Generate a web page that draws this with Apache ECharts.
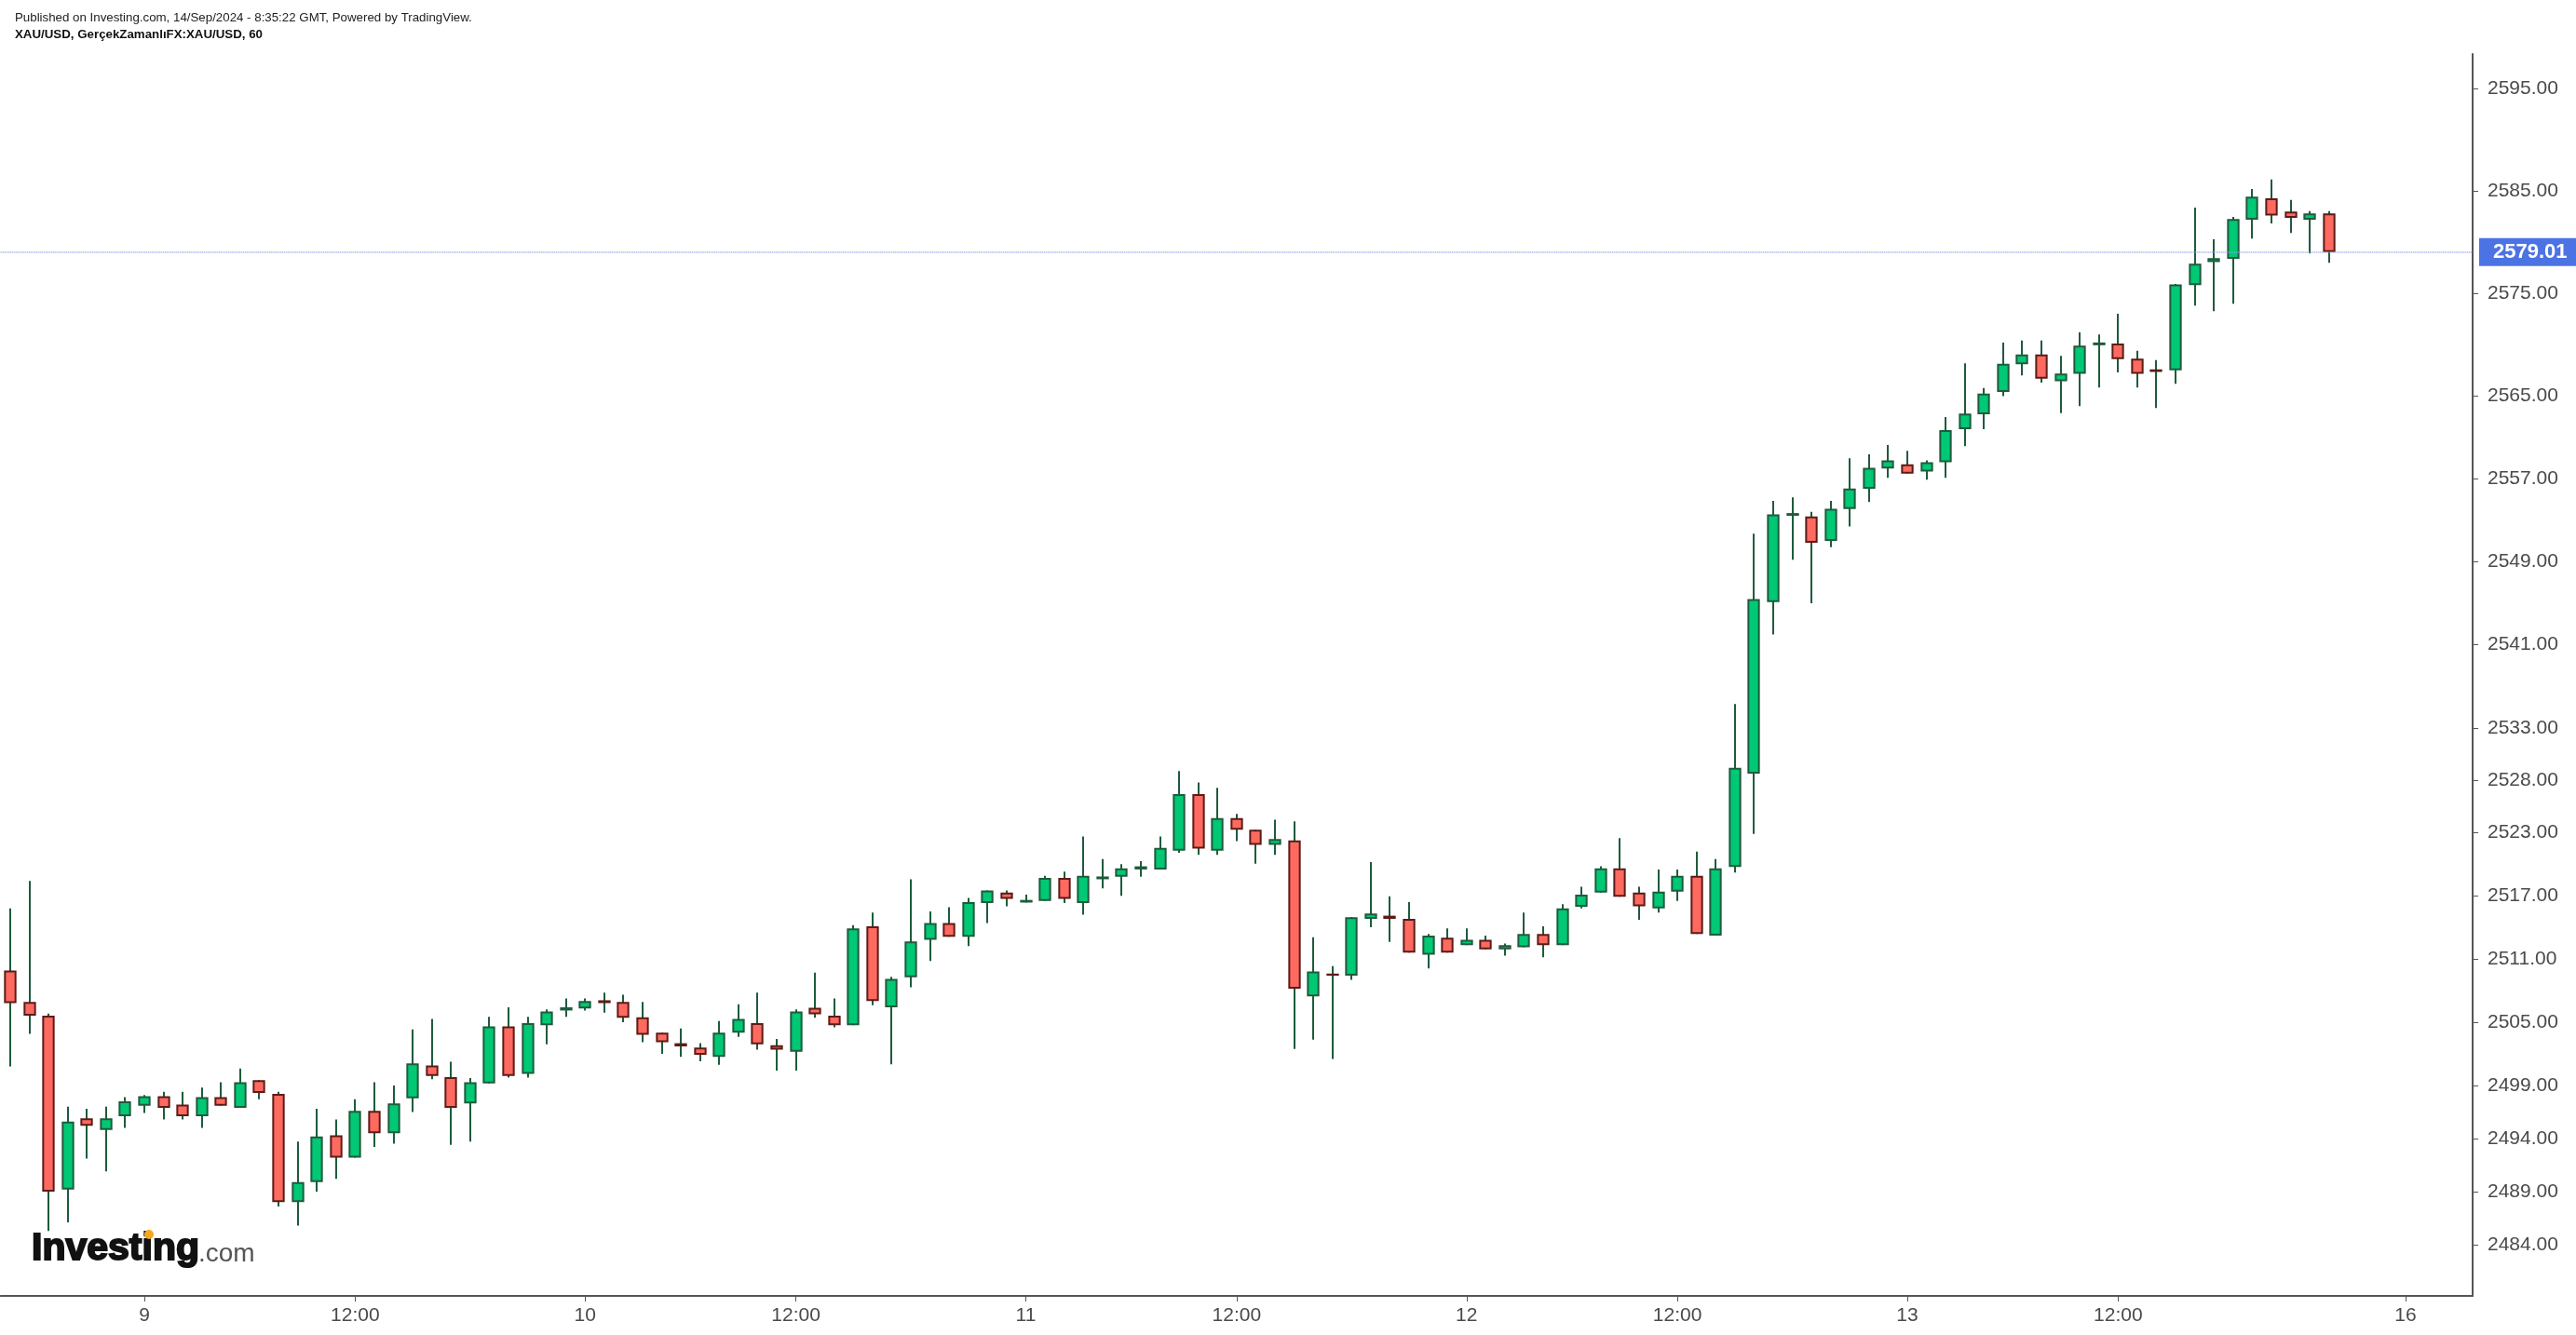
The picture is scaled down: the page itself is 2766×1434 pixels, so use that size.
<!DOCTYPE html>
<html><head><meta charset="utf-8">
<script src="https://cdn.jsdelivr.net/npm/echarts@6/dist/echarts.min.js"></script>
<style>html,body{margin:0;padding:0;background:#fff}#c{width:2766px;height:1434px}</style>
</head><body><div id="c"></div>
<script>
// XAU/USD hourly candles
const opens = [2509.9,2506.9,2505.6,2489.2,2495.9,2494.8,2496.1,2497.1,2498.0,2497.2,
2496.1,2497.9,2496.9,2499.5,2498.2,2488.0,2489.9,2494.3,2492.2,2496.6,
2494.5,2497.8,2500.9,2499.8,2497.3,2499.2,2504.6,2500.1,2504.7,2506.1,
2506.3,2507.07,2506.9,2505.45,2504.0,2503.0,2502.6,2501.7,2504.0,2504.9,
2502.8,2502.2,2506.35,2505.6,2504.7,2514.1,2506.4,2509.26,2512.8,2514.4,
2513.1,2516.3,2517.3,2516.35,2516.5,2518.7,2516.3,2518.65,2518.8,2519.5,
2519.5,2521.3,2526.7,2521.3,2524.4,2523.3,2521.85,2522.27,2507.45,2509.6,
2509.4,2514.8,2515.1,2514.8,2511.4,2513.0,2512.3,2512.8,2511.9,2512.1,
2513.35,2512.3,2515.95,2517.3,2519.6,2517.3,2515.8,2517.4,2518.9,2513.2,
2519.75,2528.65,2545.1,2553.5,2553.36,2551.0,2554.07,2556.03,2558.0,2558.4,
2557.7,2558.6,2561.8,2563.25,2565.4,2568.1,2569.05,2566.45,2567.17,2570.0,
2570.1,2568.64,2567.6,2567.5,2575.8,2578.03,2578.36,2582.18,2584.27,2582.97,
2582.18,2582.79];
const highs = [2515.8,2518.4,2505.8,2497.0,2496.8,2497.0,2497.9,2498.1,2498.4,2498.4,
2498.8,2499.3,2500.6,2499.5,2498.4,2493.7,2496.8,2495.8,2497.7,2499.3,
2499.0,2504.3,2505.3,2501.25,2499.7,2505.5,2506.4,2505.5,2506.2,2507.25,
2507.25,2507.8,2507.6,2506.9,2504.0,2504.4,2503.0,2505.1,2506.7,2507.8,
2503.4,2506.2,2509.7,2507.25,2514.2,2515.4,2509.3,2518.56,2515.5,2515.9,
2516.8,2517.5,2517.5,2517.1,2518.9,2519.3,2522.65,2520.5,2520.0,2520.3,
2522.65,2528.9,2527.8,2527.3,2524.8,2523.3,2524.25,2524.1,2513.05,2510.3,
2514.95,2520.2,2516.95,2516.4,2513.35,2513.9,2513.9,2513.2,2512.45,2515.4,
2514.1,2516.2,2517.85,2519.8,2522.5,2517.85,2519.5,2519.5,2521.2,2520.5,
2535.3,2551.7,2554.86,2555.2,2553.8,2554.86,2558.98,2559.37,2560.26,2559.7,
2558.77,2562.96,2568.18,2565.8,2570.2,2570.4,2570.4,2568.9,2571.2,2571.0,
2573.0,2569.4,2568.5,2575.9,2583.36,2580.27,2582.45,2585.18,2586.1,2584.1,
2583.0,2583.0];
const lows = [2500.8,2503.9,2485.3,2486.1,2492.1,2490.9,2495.0,2496.4,2495.8,2495.8,
2495.0,2497.1,2496.9,2497.7,2487.6,2485.8,2489.0,2490.2,2492.2,2493.2,
2493.5,2496.5,2499.6,2493.4,2493.7,2499.2,2499.75,2499.75,2502.9,2505.5,
2506.1,2505.9,2505.0,2503.1,2502.0,2501.7,2501.3,2500.96,2503.6,2502.4,
2500.4,2500.4,2505.4,2504.5,2504.7,2506.6,2501.0,2508.3,2510.8,2513.1,
2512.2,2514.4,2516.0,2516.35,2516.5,2516.3,2515.2,2517.7,2517.0,2518.8,
2519.5,2521.1,2520.9,2520.9,2522.2,2520.04,2520.9,2502.45,2503.33,2501.5,
2509.0,2514.0,2512.6,2511.6,2510.1,2511.6,2512.3,2511.9,2511.3,2512.1,
2511.15,2512.3,2515.8,2517.3,2516.9,2514.7,2515.4,2516.5,2513.35,2513.2,
2519.2,2522.9,2542.0,2549.17,2545.0,2550.4,2552.4,2554.75,2557.1,2557.5,
2556.9,2557.1,2560.15,2561.8,2565.0,2567.0,2566.3,2563.35,2564.04,2565.84,
2567.3,2565.84,2563.86,2566.2,2573.8,2573.25,2573.98,2580.33,2581.8,2580.88,
2578.88,2577.97];
const closes = [2506.8,2505.6,2489.0,2495.6,2495.2,2495.9,2497.5,2498.0,2496.9,2496.1,
2497.9,2497.1,2499.3,2498.3,2488.0,2489.9,2494.2,2492.2,2496.6,2494.5,
2497.3,2501.1,2499.9,2496.9,2499.3,2504.6,2499.9,2504.9,2506.0,2506.4,
2507.0,2506.8,2505.4,2503.8,2503.1,2502.7,2501.9,2504.0,2505.3,2502.9,
2502.4,2506.0,2505.75,2504.7,2513.9,2507.0,2509.1,2512.66,2514.4,2513.1,
2516.4,2517.5,2516.7,2516.6,2518.7,2516.7,2518.9,2518.75,2519.6,2519.8,
2521.55,2526.7,2521.5,2524.4,2523.3,2521.85,2522.4,2508.17,2509.8,2509.4,
2514.95,2515.3,2514.8,2511.6,2513.2,2511.6,2512.8,2511.9,2512.3,2513.35,
2512.3,2515.8,2517.1,2519.6,2516.9,2516.0,2517.4,2518.9,2513.35,2519.6,
2529.2,2545.4,2553.57,2553.6,2550.83,2554.1,2556.06,2558.05,2558.77,2557.5,
2558.6,2561.7,2563.3,2565.25,2568.15,2569.05,2566.7,2567.2,2569.9,2570.15,
2568.6,2567.17,2567.35,2575.87,2577.88,2578.42,2582.24,2584.42,2582.58,2582.36,
2582.79,2579.01];

const slotCount = 129;                     // hourly slots incl. empty future ones
const xLabelIdx  = [7, 18, 30, 41, 53, 64, 76, 87, 99, 110, 125];
const xLabelText = ['9','12:00','10','12:00','11','12:00','12','12:00','13','12:00','16'];
const yTickValues = [2484,2489,2494,2499,2505,2511,2517,2523,2528,2533,2541,2549,2557,2565,2575,2585,2595];
const lastPrice = 2579.01;
const yMin = 2479.2, yMax = 2598.4;

const categories = Array.from({length: slotCount}, (_, i) => String(i));
const candleData = opens.map((o, i) => [i, o, closes[i], lows[i], highs[i]]);

const UP_FILL = '#00C875', UP_LINE = '#1E5B3C';
const DOWN_FILL = '#FF6A60', DOWN_LINE = '#5C1B17';
const WICK = '#1E5B3C';
const FONT = 'Arial, "Liberation Sans", sans-serif';

function renderItem(params, api) {
  const idx = api.value(0);
  const o = api.value(1), c = api.value(2), l = api.value(3), h = api.value(4);
  const pO = api.coord([idx, o]), pC = api.coord([idx, c]);
  const pL = api.coord([idx, l]), pH = api.coord([idx, h]);
  const band = api.size([1, 0])[0];
  const w = band * 0.55;
  const up = c >= o;
  const x = Math.round(pO[0]);
  let top = Math.min(pO[1], pC[1]) + 1, bot = Math.max(pO[1], pC[1]) - 1;
  if (bot < top) { const m = (top + bot) / 2; top = m - 0.5; bot = m + 0.5; }
  return {
    type: 'group',
    children: [
      { type: 'line', shape: { x1: x, y1: pH[1], x2: x, y2: pL[1] },
        style: { stroke: WICK, lineWidth: 2 } },
      { type: 'rect', shape: { x: x - w / 2, y: top, width: w, height: bot - top },
        style: { fill: up ? UP_FILL : DOWN_FILL, stroke: up ? UP_LINE : DOWN_LINE, lineWidth: 2 } }
    ]
  };
}

const chart = echarts.init(document.getElementById('c'), null, { renderer: 'canvas' });
const showIdx = (i) => xLabelIdx.indexOf(i) >= 0;
chart.setOption({
  backgroundColor: '#ffffff',
  animation: false,
  grid: { left: 0.7, right: 111, top: 58, bottom: 42, containLabel: false },
  xAxis: {
    type: 'category', data: categories, boundaryGap: true,
    axisLine: { show: true, lineStyle: { color: '#555555', width: 2 } },
    axisTick: { show: true, interval: (i) => showIdx(i), alignWithLabel: true, length: 6,
      lineStyle: { color: '#555555', width: 1 } },
    axisLabel: { interval: (i) => showIdx(i),
      formatter: (v, i) => xLabelText[xLabelIdx.indexOf(Number(v))] || '',
      fontSize: 21, color: '#4a4a4a', fontFamily: FONT, margin: 11 },
    splitLine: { show: false }
  },
  yAxis: {
    type: 'log', logBase: 10, position: 'right', min: yMin, max: yMax, scale: true,
    axisLine: { show: true, lineStyle: { color: '#555555', width: 2 } },
    axisTick: { show: true, length: 6, customValues: yTickValues,
      lineStyle: { color: '#555555', width: 1 } },
    axisLabel: { show: true, customValues: yTickValues, formatter: (v) => Number(v).toFixed(2),
      fontSize: 21, color: '#4a4a4a', fontFamily: FONT, margin: 16 },
    splitLine: { show: false }
  },
  series: [{
    type: 'custom', renderItem: renderItem, data: candleData,
    encode: { x: 0, y: [1, 2, 3, 4] }, clip: true,
    markLine: {
      silent: true, symbol: ['none', 'none'], animation: false,
      data: [{ yAxis: lastPrice }],
      lineStyle: { color: '#8FA2E6', type: [1, 1], width: 1.5, opacity: 1 },
      label: { show: true, position: 'end', formatter: lastPrice.toFixed(2),
        backgroundColor: '#4C73E3', color: '#ffffff', fontSize: 22, fontWeight: 'bold',
        fontFamily: FONT, padding: [4, 12, 4, 15], distance: 7 }
    }
  }],
  graphic: [
    { type: 'text', x: 16, y: 19, style: { text: 'Published on Investing.com, 14/Sep/2024 - 8:35:22 GMT, Powered by TradingView.',
        font: '13.3px ' + FONT, fill: '#222222', verticalAlign: 'middle' } },
    { type: 'text', x: 16, y: 37, style: { text: 'XAU/USD, GerçekZamanlıFX:XAU/USD, 60',
        font: 'bold 13.3px ' + FONT, fill: '#111111', verticalAlign: 'middle' } },
    { type: 'text', x: 34, y: 1342, style: { text: 'Investing',
        font: 'bold 41px ' + FONT, fill: '#111111', stroke: '#111111', lineWidth: 2,
        verticalAlign: 'middle' } },
    { type: 'text', x: 213, y: 1347, style: { text: '.com',
        font: '28px ' + FONT, fill: '#555555', verticalAlign: 'middle' } },
    { type: 'circle', shape: { cx: 160, cy: 1326, r: 5 }, style: { fill: '#F5A623' } }
  ]
});
</script>
</body></html>
